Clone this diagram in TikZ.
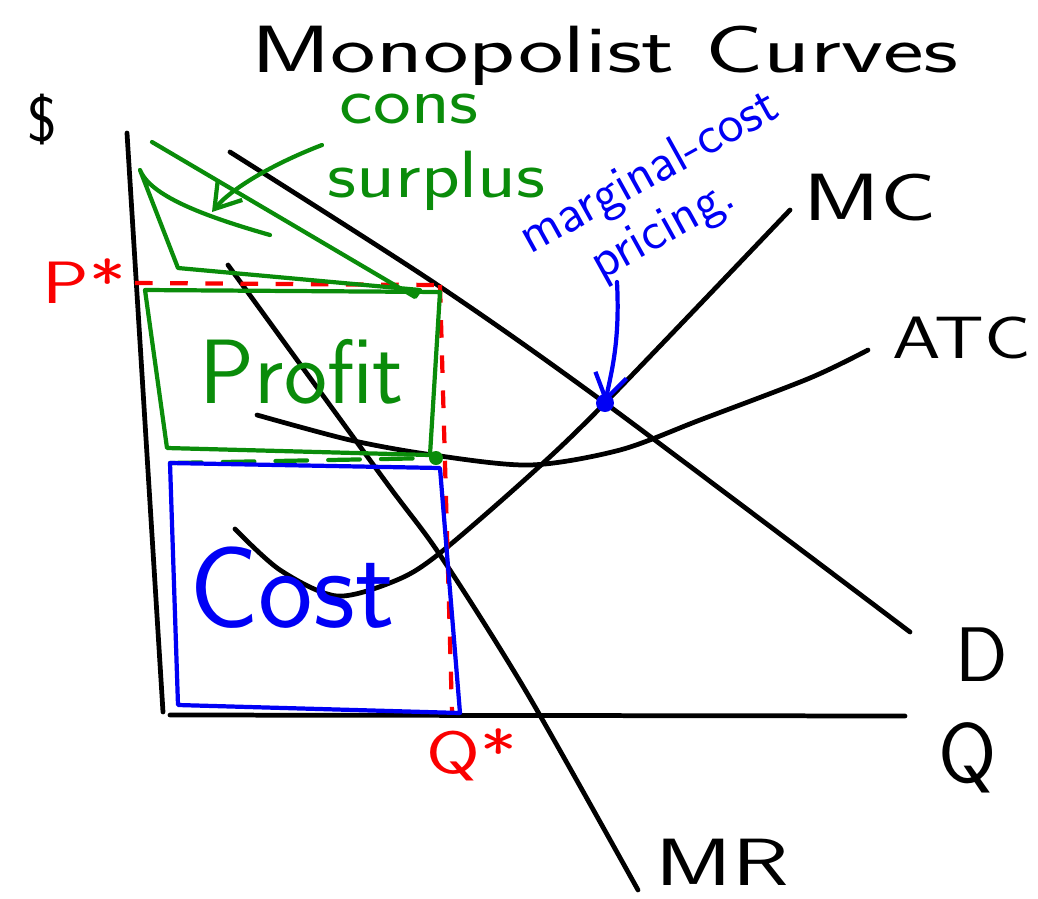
\documentclass[tikz,border=0pt]{standalone}
\usepackage{tikz}
\usetikzlibrary{arrows.meta}
\usetikzlibrary{positioning}
\definecolor{penGreen}{RGB}{10,140,10}
\definecolor{penBlue}{RGB}{0,0,245}
\definecolor{penRed}{RGB}{250,0,0}
\tikzset{
ink/.style={
	draw=black,
	line width=1.35pt,
	line cap=round,
	line join=round
},
guide/.style={
	draw=penRed,
	line width=1.2pt,
	dash pattern=on 5pt off 5pt
},
areabox/.style={
	line width=1.2pt,
	line join=round,
	line cap=round
},
tag/.style={
	font=\sffamily,
	inner sep=0pt
}
}

\begin{document}
\begin{tikzpicture}[
  x=0.01cm, y=-0.01cm,
  pointer/.style={-{Straight Barb[length=7pt,width=9pt]}, line width=1.2pt, line cap=round}
]
\useasboundingbox (0,0) rectangle (1038,899);

% axes
\draw[ink] (127,133) -- (163,712);
\draw[ink] (170,715) -- (905,716);

% curves
\draw[ink] plot[smooth] coordinates {(230,152) (433,282) (605,403) (910,632)};
\draw[ink] plot[smooth] coordinates {(228,265) (383,478) (440,555) (527,693) (638,890)};
\draw[ink] plot[smooth] coordinates {(235,529) (280,570) (337,596) (397,580) (440,553) (530,475) (605,403) (790,210)};
\draw[ink] plot[smooth] coordinates {(257,415) (350,440) (433,455) (530,465) (620,450) (700,420) (810,378) (868,350)};

% P* and Q*
\coordinate (Mono) at (440,285);
\coordinate (Qstar) at (452,712);
\coordinate (Avg) at (436,458);
\coordinate (Mcp) at (605,403);
\draw[guide] (135,283) -- (Mono);
\draw[guide] (Mono) -- (Qstar);

% profit, cost, consumer surplus
\draw[areabox, penGreen] (145,290) -- (440,292) -- (430,455) -- (167,448) -- cycle;
\draw[areabox, penGreen, dash pattern=on 9pt off 6pt] (170,463) -- (Avg);
\fill[penGreen] (Avg) circle (7);
\draw[areabox, penBlue] (170,463) -- (440,468) -- (460,713) -- (178,705) -- cycle;
\draw[areabox, penGreen] (152,142) -- (415,297) -- (420,290) -- (178,268) -- (140,170) .. controls (150,195) and (200,215) .. (270,235);
\fill[penBlue] (Mcp) circle (9);

% labels
\node[tag, font=\sffamily\fontsize{19}{24}\selectfont, xscale=1.45] (title) at (605,56) {Monopolist Curves};
\node[tag, font=\sffamily\fontsize{18}{22}\selectfont] (dollar) at (42,120) {\$};
\node[tag, font=\sffamily\fontsize{17}{20}\selectfont, text=penRed, xscale=1.3] (Plab) at (84,281) {P*};
\node[tag, font=\sffamily\fontsize{17}{20}\selectfont, text=penRed, xscale=1.3] (Qlab) at (472,755) {Q*};
\node[tag, font=\sffamily\fontsize{19}{22}\selectfont, xscale=1.4] (MRlab) at (722,862) {MR};
\node[tag, font=\sffamily\fontsize{24}{28}\selectfont] (Qaxis) at (968,758) {Q};
\node[tag, font=\sffamily\fontsize{22}{26}\selectfont] (Dlab) at (982,655) {D};
\node[tag, font=\sffamily\fontsize{17}{20}\selectfont, xscale=1.3] (ATClab) at (962,338) {ATC};
\node[tag, font=\sffamily\fontsize{19}{22}\selectfont, xscale=1.4] (MClab) at (870,198) {MC};
\node[tag, font=\sffamily\fontsize{26}{30}\selectfont, text=penGreen] (Profit) at (302,372) {Profit};
\node[tag, font=\sffamily\fontsize{33}{38}\selectfont, text=penBlue] (Cost) at (292,588) {Cost};
\node[tag, font=\sffamily\fontsize{19}{21}\selectfont, text=penGreen, align=left, xscale=1.2, anchor=west] (Surplus) at (327,152) {\hspace*{0.15em}cons\\surplus};
\node[tag, font=\sffamily\fontsize{15}{16}\selectfont, text=penBlue, rotate=29] (Marginal) at (650,174) {marginal-cost};
\node[tag, font=\sffamily\fontsize{15}{16}\selectfont, text=penBlue, rotate=29] (Pricing) at (664,232) {pricing.};

% pointers
\draw[pointer, penBlue] (617,282) .. controls (620,340) and (612,370) .. (Mcp);
\draw[pointer, penGreen] (322,145) .. controls (270,165) and (230,190) .. (212,212);

\end{tikzpicture}
\end{document}
